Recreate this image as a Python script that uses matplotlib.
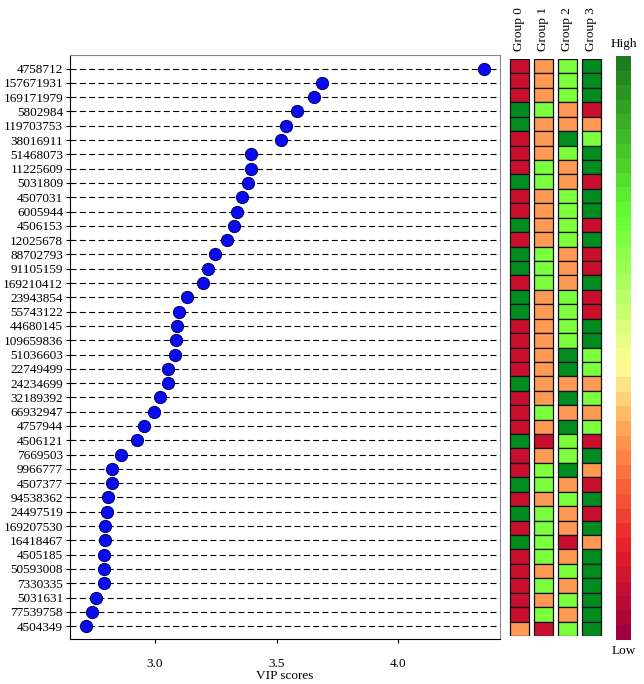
import numpy as np
import matplotlib.pyplot as plt
from matplotlib.colors import ListedColormap, LinearSegmentedColormap

plt.rcParams['font.family'] = ['Liberation Serif', 'DejaVu Serif']
plt.rcParams['font.size'] = 9.5

# ----------------------------
# Data (top row first)
# ----------------------------
proteins = [
    "4758712", "157671931", "169171979", "5802984", "119703753", "38016911",
    "51468073", "11225609", "5031809", "4507031", "6005944", "4506153",
    "12025678", "88702793", "91105159", "169210412", "23943854", "55743122",
    "44680145", "109659836", "51036603", "22749499", "24234699", "32189392",
    "66932947", "4757944", "4506121", "7669503", "9966777", "4507377",
    "94538362", "24497519", "169207530", "16418467", "4505185", "50593008",
    "7330335", "5031631", "77539758", "4504349",
]

vip_scores = [
    4.352, 3.686, 3.653, 3.584, 3.538, 3.518, 3.395, 3.395, 3.382, 3.358,
    3.337, 3.325, 3.296, 3.247, 3.218, 3.197, 3.132, 3.099, 3.090, 3.086,
    3.082, 3.053, 3.053, 3.021, 2.996, 2.955, 2.926, 2.860, 2.822, 2.822,
    2.809, 2.803, 2.795, 2.795, 2.792, 2.790, 2.790, 2.757, 2.740, 2.716,
]

groups = ["Group 0", "Group 1", "Group 2", "Group 3"]

# relative level per group: 0 = low ... 3 = high
levels = [
    [0, 1, 2, 3], [0, 1, 2, 3], [0, 1, 2, 3], [3, 2, 1, 0], [3, 1, 1, 1],
    [0, 1, 3, 2], [0, 1, 2, 3], [0, 2, 1, 3], [3, 2, 1, 0], [0, 1, 2, 3],
    [0, 1, 2, 3], [3, 1, 2, 0], [0, 1, 2, 3], [3, 2, 1, 0], [3, 2, 1, 0],
    [0, 2, 1, 3], [3, 1, 2, 0], [3, 1, 2, 0], [0, 1, 2, 3], [0, 1, 2, 3],
    [0, 1, 3, 2], [0, 1, 3, 2], [3, 1, 1, 1], [0, 1, 3, 2], [0, 2, 1, 1],
    [0, 1, 3, 2], [3, 0, 2, 0], [0, 1, 2, 3], [0, 2, 3, 1], [3, 2, 1, 0],
    [0, 1, 2, 3], [3, 2, 1, 0], [0, 2, 1, 3], [3, 2, 0, 1], [0, 2, 1, 3],
    [0, 1, 2, 3], [0, 2, 1, 3], [0, 1, 2, 3], [0, 2, 1, 3], [1, 0, 2, 3],
]

cell_cmap = ListedColormap(["#C8102E", "#FF9A55", "#7CFF3C", "#008C1E"])
bar_cmap = LinearSegmentedColormap.from_list(
    "lowhigh",
    [(0.0, "#A0003C"), (0.15, "#E8202A"), (0.32, "#FF8A45"),
     (0.47, "#FFFF95"), (0.73, "#66FF33"), (1.0, "#1E7D1E")],
)


def main():
    fig = plt.figure(figsize=(6.44, 6.84), dpi=100)
    W, H = 644.0, 684.0

    def px_axes(x0, y0, x1, y1):
        return fig.add_axes([x0 / W, 1 - y1 / H, (x1 - x0) / W, (y1 - y0) / H])

    n = len(proteins)
    rows = np.arange(n)

    # ---- VIP dot plot ----
    ax = px_axes(70, 55, 500, 639)
    for r in rows:
        ax.axhline(r, color="black", lw=0.8, dashes=(5.4, 3.0), zorder=1)
    ax.plot(vip_scores, rows, "o", ms=8.8, mfc="#0A0AF2", mec="#00005A",
            mew=0.7, zorder=3, clip_on=False)
    ax.set_ylim(n - 0.1, -0.95)
    ax.set_xlim(2.651, 4.418)
    ax.set_yticks(rows)
    ax.set_yticklabels(proteins)
    ax.set_xticks([3.0, 3.5, 4.0])
    ax.tick_params(axis="y", length=3, pad=2)
    ax.tick_params(axis="x", length=3, pad=11)
    ax.set_xlabel("VIP scores", labelpad=0)
    for side in ("top", "right"):
        ax.spines[side].set_color("#888888")

    # ---- group heatmap ----
    hx = px_axes(507.5, 59, 603.5, 636)
    lv = np.array(levels)
    for g in range(len(groups)):
        hx.barh(rows, 0.79, left=g - 0.395, height=1.0,
                color=cell_cmap(lv[:, g]), edgecolor="#111111", linewidth=0.9)
    hx.set_xlim(-0.5, len(groups) - 0.5)
    hx.set_ylim(n - 0.5, -0.5)
    hx.xaxis.tick_top()
    hx.set_xticks(range(len(groups)))
    hx.set_xticklabels(groups, rotation=90)
    hx.tick_params(axis="x", length=0, pad=6)
    hx.set_yticks([])
    for s in hx.spines.values():
        s.set_visible(False)

    # ---- colour scale ----
    cx = px_axes(616, 56, 631, 640)
    steps = 40
    cx.imshow(np.arange(steps)[::-1, None], cmap=bar_cmap, aspect="auto",
              interpolation="nearest")
    cx.set_axis_off()
    fig.text(623.5 / W, 1 - 44 / H, "High", ha="center", va="center")
    fig.text(623.5 / W, 1 - 651 / H, "Low", ha="center", va="center")

    fig.savefig("out.png", dpi=100)


if __name__ == "__main__":
    main()
